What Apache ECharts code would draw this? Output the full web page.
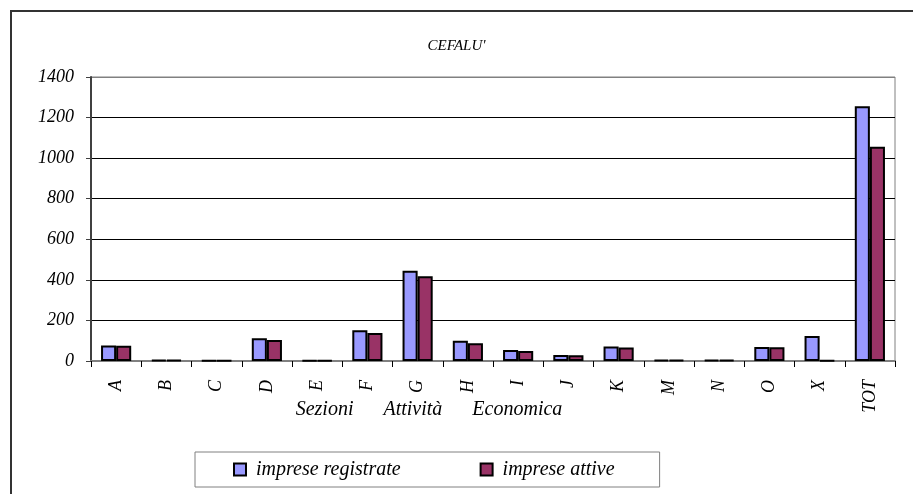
<!DOCTYPE html>
<html>
<head>
<meta charset="utf-8">
<script src="https://cdn.jsdelivr.net/npm/echarts@6/dist/echarts.min.js"></script>
<style>
html, body { margin: 0; padding: 0; background: #fff; }
#chart { width: 913px; height: 494px; }
</style>
</head>
<body>
<div id="chart"></div>
<script>
var categories = ['A', 'B', 'C', 'D', 'E', 'F', 'G', 'H', 'I', 'J', 'K', 'M', 'N', 'O', 'X', 'TOT'];
var registrate = [77, 5, 2, 112, 3, 151, 445, 100, 54, 30, 72, 6, 6, 69, 123, 1256];
var attive = [75, 4, 2, 103, 3, 138, 418, 87, 49, 28, 66, 5, 5, 68, 3, 1056];
var yTicks = [0, 200, 400, 600, 800, 1000, 1200, 1400];

var serif = '"Liberation Serif", "DejaVu Serif", serif';

var chart = echarts.init(document.getElementById('chart'));

var options =
{
	animation: false,
	backgroundColor: '#fff',
	title:
	{
		text: "CEFALU'",
		left: 'center',
		top: 34,
		textStyle: { fontFamily: serif, fontStyle: 'italic', fontWeight: 'normal', fontSize: 15, color: '#000' }
	},
	grid:
	{
		left: 91, right: 18, top: 77, bottom: 133,
		show: true, borderColor: '#808080', borderWidth: 1
	},
	legend:
	{
		left: 195, top: 452,
		padding: [7, 45, 7, 38],
		itemGap: 79,
		icon: 'rect',
		itemWidth: 12, itemHeight: 12,
		borderColor: '#808080', borderWidth: 1,
		textStyle: { fontFamily: serif, fontStyle: 'italic', fontSize: 20, lineHeight: 21, color: '#000', padding: [0, 0, 0, 5] },
		data: ['imprese registrate', 'imprese attive']
	},
	xAxis:
	{
		type: 'category',
		data: categories,
		axisLine: { lineStyle: { color: '#808080', width: 2 } },
		axisTick: { show: true, length: 6, lineStyle: { color: '#000' } },
		axisLabel: { rotate: 90, margin: 19, fontFamily: serif, fontStyle: 'italic', fontSize: 18, color: '#000' }
	},
	yAxis:
	{
		type: 'value',
		min: yTicks[0],
		max: yTicks[yTicks.length - 1],
		interval: 200,
		axisLine: { show: true, lineStyle: { color: '#404040', width: 2 } },
		axisTick: { show: true, length: 5, lineStyle: { color: '#404040' } },
		axisLabel: { margin: 17, fontFamily: serif, fontStyle: 'italic', fontSize: 18, color: '#000', formatter: function (v) { return String(v); } },
		splitLine: { lineStyle: { color: ['#000', '#000', '#000', '#000', '#000', '#000', '#000', '#808080'], width: 1 } }
	},
	graphic:
	[
		{
			type: 'rect',
			shape: { x: 11, y: 11, width: 1000, height: 600 },
			style: { fill: 'none', stroke: '#333', lineWidth: 2 },
			silent: true, z: 100
		},
		{
			type: 'text',
			x: 429, y: 400,
			style:
			{
				text: 'Sezioni      Attività      Economica',
				textAlign: 'center',
				font: 'italic 20px ' + serif,
				fill: '#000'
			}
		}
	],
	series:
	[
		{
			name: 'imprese registrate',
			type: 'bar',
			data: registrate,
			barGap: '0%',
			barCategoryGap: '40%',
			itemStyle: { color: '#9999FF', borderColor: '#000', borderWidth: 2 }
		},
		{
			name: 'imprese attive',
			type: 'bar',
			data: attive,
			itemStyle: { color: '#993366', borderColor: '#000', borderWidth: 2 }
		}
	]
};

chart.setOption(options);
</script>
</body>
</html>
